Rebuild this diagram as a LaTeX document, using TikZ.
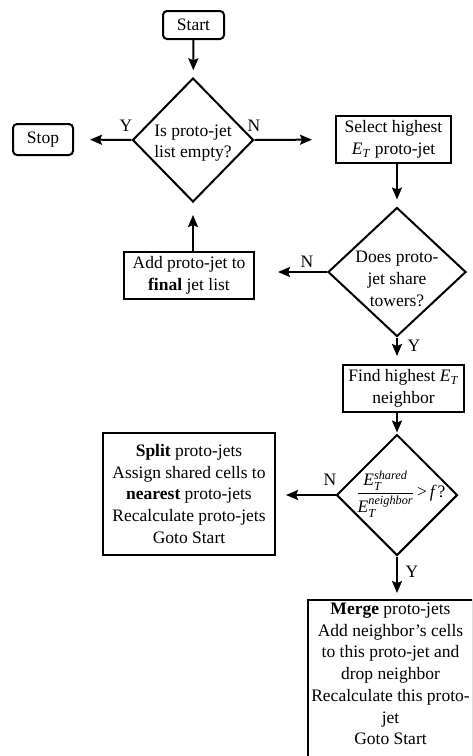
\documentclass[tikz,border=0pt]{standalone}
\usepackage{amsmath}
\usepackage{fontspec}
\setmainfont{Liberation Serif}
\usetikzlibrary{shapes.geometric, arrows.meta, positioning}

\begin{document}
\begin{tikzpicture}[
        x=1pt, y=-1pt,
        font=\fontsize{17.5}{21.7}\selectfont,
        term/.style={rectangle, draw, line width=2pt, rounded corners=4pt, inner sep=0pt},
        proc/.style={rectangle, draw, line width=2pt, inner sep=0pt, align=center},
        decide/.style={diamond, draw, line width=2pt, inner sep=0pt},
        yn/.style={inner sep=0pt},
        arrow/.style={-{Stealth[length=12pt, width=10pt, inset=2pt]}, line width=2pt}
    ]
    \clip (0,0) rectangle (472,756);

    % start / stop
    \node[term, minimum width=61pt, minimum height=28pt] (start) at (193.5,25) {Start};
    \node[term, minimum width=60pt, minimum height=31pt] (stop) at (43,139.5) {Stop};

    % first decision
    \node[decide, minimum width=121pt, minimum height=124pt] (empty) at (193,140) {};
    \node[align=center] (emptytxt) at (193,143) {Is proto-jet\\list empty?};
    \node[proc, minimum width=115pt, minimum height=47pt] (select) at (393.5,139.5)
        {Select highest\\\textit{E}\textsubscript{\textit{T}} proto-jet};

    % second decision
    \node[decide, minimum width=138pt, minimum height=129pt] (share) at (397,272) {};
    \node[align=center] (sharetxt) at (397,279) {Does proto-\\jet share\\towers?};
    \node[proc, minimum width=130pt, minimum height=47pt] (add) at (189,275.5)
        {Add proto-jet to\\\textbf{final} jet list};
    \node[proc, minimum width=121pt, minimum height=47pt] (find) at (403.5,388.5)
        {Find highest \textit{E}\textsubscript{\textit{T}}\\neighbor};

    % third decision
    \node[decide, minimum width=121pt, minimum height=121pt] (ratio) at (397,495) {};
    \node (ratiotxt) at (401,494)
        {$\dfrac{\textit{E}_{\textit{T}}^{\textit{shared}}}{\textit{E}_{\textit{T}}^{\textit{neighbor}}}\,\text{>}\,\textit{f}\,\text{?}$};
    \node[proc, minimum width=172pt, minimum height=122pt] (split) at (189,494)
        {\textbf{Split} proto-jets\\Assign shared cells to\\\textbf{nearest} proto-jets\\Recalculate proto-jets\\Goto Start};
    \node[proc, anchor=north, inner ysep=3pt] (merge) at (390.5,599)
        {\parbox[t][165pt][t]{165pt}{\centering
        \textbf{Merge} proto-jets\\Add neighbor's cells\\to this proto-jet and\\drop neighbor\\Recalculate this proto-\\jet\\Goto Start}};

    % connectors
    \draw[arrow, shorten >=7pt] (start) -- (empty);
    \draw[arrow, shorten >=16pt] (empty.west) -- (stop.east);
    \draw[arrow, shorten >=23pt] (empty.east) -- (select.west);
    \draw[arrow, shorten >=7pt] (select.south -| share) -- (share.north);
    \draw[arrow, shorten >=23pt] (share.west) -- (add.east |- share.west);
    \draw[arrow, shorten >=12pt] (add.north -| empty) -- (empty.south);
    \draw[arrow, shorten >=8pt] (share.south) -- (find.north -| share);
    \draw[arrow, shorten >=1pt] (find.south -| ratio) -- (ratio.north);
    \draw[arrow, shorten >=10pt] (ratio.west) -- (split.east |- ratio.west);
    \draw[arrow, shorten >=6pt] (ratio.south) -- (merge.north -| ratio);

    % branch labels
    \node[yn] (y1) at (126,126) {Y};
    \node[yn] (n1) at (254,126) {N};
    \node[yn] (n2) at (307,262) {N};
    \node[yn] (y2) at (414,346) {Y};
    \node[yn] (n3) at (330,480) {N};
    \node[yn] (y3) at (412,572) {Y};
\end{tikzpicture}
\end{document}
